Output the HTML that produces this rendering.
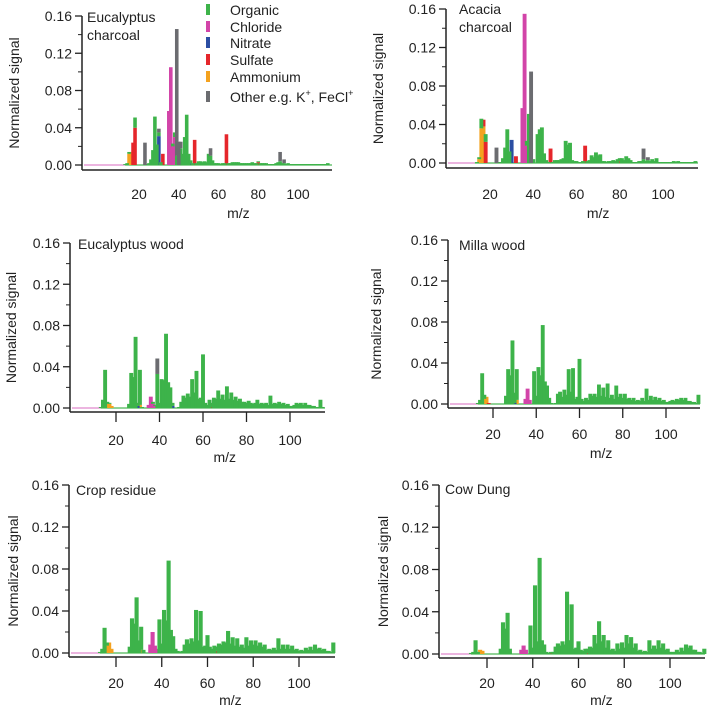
<!DOCTYPE html>
<html><head><meta charset="utf-8"><style>
html,body{margin:0;padding:0;background:#fff;}
svg{display:block;font-family:"Liberation Sans",Arial,sans-serif;}
</style></head><body>
<svg id="chart" width="709" height="710" viewBox="0 0 709 710" xmlns="http://www.w3.org/2000/svg"></svg>
<script>
// ---- data (organic: contiguous m/z 12..115) ----
const organicStart = 12;
const p1Organic = [0,.001,.002,.002,0,0,.011,0,0,0,0,0,.001,.002,.006,.016,.052,.022,.004,.003,0,0,0,0,0,.003,.005,.010,0,.018,.012,.030,.054,.012,.003,.002,0,.002,.004,.004,.003,.004,.003,.012,.010,.005,.002,.002,.002,.001,.002,.002,0,.002,.002,.003,.003,.003,.003,.002,.002,.002,.002,.002,.002,.003,.002,.002,.001,.002,.002,.002,.002,.001,.001,.001,.001,.002,.003,.004,.002,.002,.001,.002,.001,.001,.001,.001,.001,.001,.001,.001,.001,.001,.001,.001,.001,.001,.001,.001,.001,.001,.001,.002];
const p2Organic = [0,0,.001,.002,.010,0,.008,0,0,0,0,0,.001,.001,.005,.016,.035,.012,0,0,0,0,0,0,0,.005,.051,0,.004,0,.030,.035,.037,.010,.003,.001,0,.001,.003,.003,.003,.004,.005,.023,.019,.021,.003,.002,.002,.001,.001,.002,0,.002,.003,.008,.006,.011,.008,.009,.002,.002,.001,.002,.002,.003,.002,.004,.003,.005,.003,.007,.005,.003,.001,.001,.001,.002,.002,.004,.002,.003,.002,.004,.002,.005,.001,.001,.001,.001,.001,.001,.001,.002,.001,.002,.001,.001,.001,.001,.001,.001,.001,.002];
const p3Organic = [0,.001,.008,.037,.002,.001,0,0,0,0,0,0,0,0,.004,.034,.030,.069,.003,.034,.001,0,0,0,0,.002,.001,.033,.005,.028,.027,.072,.025,.020,.003,0,0,.001,.006,.012,.010,.014,.011,.028,.015,.036,.009,.010,.052,.005,.003,.008,.004,.010,.009,.017,.009,.013,.008,.021,.009,.015,.008,.011,.007,.009,.006,.006,.005,.007,.005,.004,.005,.008,.004,.005,.004,.005,.003,.012,.004,.005,.004,.006,.004,.005,.003,.004,.002,.002,.003,.005,.004,.005,.003,.005,.003,.003,.002,.002,.001,.001,.008,.001];
const p4Organic = [0,.001,.004,.030,.004,0,0,0,0,0,0,0,0,0,.008,.034,.028,.062,.010,.030,0,0,0,0,0,0,0,.032,.008,.036,.028,.077,.022,.018,.006,.001,0,.001,.010,.012,.007,.014,.009,.034,.012,.035,.005,.007,.044,.005,.003,.006,.004,.010,.008,.010,.007,.019,.008,.016,.007,.020,.006,.009,.005,.018,.007,.010,.006,.010,.005,.006,.004,.006,.003,.004,.003,.006,.003,.015,.004,.008,.004,.007,.004,.006,.003,.004,.002,.002,.003,.004,.003,.005,.004,.006,.004,.006,.003,.003,.002,.002,.001,.009];
const p5Organic = [0,.001,.004,.024,.003,0,0,0,0,0,0,0,0,0,.006,.033,.028,.053,.012,.022,.003,0,0,0,0,0,0,.032,.009,.041,.031,.088,.022,.016,.004,.002,.001,.002,.008,.013,.009,.014,.011,.041,.012,.040,.006,.007,.017,.006,.004,.007,.004,.009,.008,.011,.010,.021,.009,.015,.007,.014,.006,.008,.005,.015,.007,.012,.008,.012,.007,.010,.006,.008,.003,.004,.003,.005,.003,.014,.004,.008,.004,.008,.004,.007,.003,.004,.002,.003,.002,.005,.003,.006,.003,.008,.004,.005,.003,.004,.002,.002,.001,.010];
const p6Organic = [0,.001,.002,.013,.002,0,0,0,0,0,0,0,0,0,.005,.030,.024,.039,.005,0,0,0,0,0,0,0,0,.027,.006,.065,.012,.091,.013,.009,.002,.001,.001,.002,.007,.010,.008,.012,.009,.059,.013,.047,.005,.006,.012,.004,.003,.005,.004,.007,.006,.018,.010,.031,.012,.018,.006,.013,.004,.005,.003,.010,.005,.011,.006,.018,.010,.016,.006,.010,.003,.004,.002,.003,.002,.013,.005,.008,.005,.013,.006,.010,.004,.005,.002,.002,.002,.004,.002,.006,.003,.009,.006,.008,.004,.004,.002,.002,.001,.005];
// sparse species: [m/z, value]
const p1Ammonium = [[15,.012],[16,.014]];
const p1Sulfate = [[17,.024],[18,.040],[32,.012],[48,.027],[64,.033],[80,.003]];
const p1Nitrate = [[30,.031],[46,.002]];
const p1Chloride = [[35,.058],[36,.105],[37,.020],[38,.030]];
const p1Other = [[23,.024],[30,.004],[39,.136],[40,.025],[41,.007],[56,.008],[91,.010],[93,.004]];
const p2Ammonium = [[15,.004],[16,.036],[17,.038]];
const p2Sulfate = [[17,.007],[18,.022],[32,.007],[48,.015],[64,.018],[80,.002]];
const p2Nitrate = [[30,.024]];
const p2Chloride = [[35,.057],[36,.155],[37,.018]];
const p2Other = [[23,.016],[39,.095],[91,.011],[93,.003]];
const p3Ammonium = [[16,.004],[17,.004],[18,.002],[31,.003]];
const p3Sulfate = [[64,.001]];
const p3Nitrate = [[30,.002],[46,.002]];
const p3Chloride = [[35,.003],[36,.011],[37,.004],[38,.002]];
const p3Other = [[39,.015]];
const p4Ammonium = [[16,.005],[17,.007],[31,.004]];
const p4Sulfate = [[18,.001]];
const p4Nitrate = [[30,.001]];
const p4Chloride = [[35,.005],[36,.015],[37,.004]];
const p4Other = [];
const p5Ammonium = [[16,.007],[17,.010],[18,.004],[31,.003]];
const p5Sulfate = [[64,.002]];
const p5Nitrate = [];
const p5Chloride = [[35,.008],[36,.020],[37,.007],[38,.004]];
const p5Other = [];
const p6Ammonium = [[17,.004],[18,.003]];
const p6Sulfate = [[48,.001],[64,.001]];
const p6Nitrate = [];
const p6Chloride = [[35,.004],[36,.008],[37,.004]];
const p6Other = [];
const xTicks = [20,40,60,80,100];
const yTicks = [0,0.04,0.08,0.12,0.16];
const yTickLabels = ["0.00","0.04","0.08","0.12","0.16"];
const legendLabels = ["Organic","Chloride","Nitrate","Sulfate","Ammonium"];

const COLORS = {org:"#3db34a",chl:"#d244a8",nit:"#2b4ea3",sul:"#e5262b",amm:"#f4a21f",oth:"#6b6c70"};
const NS = "http://www.w3.org/2000/svg";
const svg = document.getElementById("chart");
function mk(tag, attrs, parent){ const e=document.createElementNS(NS,tag); for(const k in attrs) e.setAttribute(k,attrs[k]); (parent||svg).appendChild(e); return e; }

const panels = [
 {id:"eucalyptus-charcoal", title:["Eucalyptus","charcoal"], tx:87, ty:22, ax:82, y16:16, y0:165, xa:170, x20:139, x100:298, xend:332, tl:199, mz:218, yl:14, xticks:false, org:p1Organic, amm:p1Ammonium, sul:p1Sulfate, nit:p1Nitrate, chl:p1Chloride, oth:p1Other},
 {id:"acacia-charcoal", title:["Acacia","charcoal"], tx:459, ty:14, ax:446, y16:9, y0:163, xa:168, x20:490, x100:663, xend:698, tl:199, mz:218, yl:378, xticks:false, org:p2Organic, amm:p2Ammonium, sul:p2Sulfate, nit:p2Nitrate, chl:p2Chloride, oth:p2Other},
 {id:"eucalyptus-wood", title:["Eucalyptus wood"], tx:78, ty:249, ax:70, y16:243, y0:408, xa:412, x20:116, x100:290, xend:325, tl:445, mz:462, yl:11, xticks:true, org:p3Organic, amm:p3Ammonium, sul:p3Sulfate, nit:p3Nitrate, chl:p3Chloride, oth:p3Other},
 {id:"milla-wood", title:["Milla wood"], tx:459, ty:250, ax:448, y16:240, y0:404, xa:408, x20:493, x100:666, xend:700, tl:439, mz:458, yl:376, xticks:true, org:p4Organic, amm:p4Ammonium, sul:p4Sulfate, nit:p4Nitrate, chl:p4Chloride, oth:p4Other},
 {id:"crop-residue", title:["Crop residue"], tx:76, ty:495, ax:69, y16:485, y0:653, xa:657, x20:116, x100:299, xend:335, tl:688, mz:705, yl:13, xticks:true, org:p5Organic, amm:p5Ammonium, sul:p5Sulfate, nit:p5Nitrate, chl:p5Chloride, oth:p5Other},
 {id:"cow-dung", title:["Cow Dung"], tx:445, ty:494, ax:439, y16:485, y0:654, xa:658, x20:487, x100:670, xend:705, tl:688, mz:705, yl:383, xticks:true, org:p6Organic, amm:p6Ammonium, sul:p6Sulfate, nit:p6Nitrate, chl:p6Chloride, oth:p6Other}
];

panels.forEach(p=>{
  const g = mk("g",{});
  
  
  const sx = m => p.x20 + (m-20)*(p.x100-p.x20)/80;
  const sy = v => p.y0 - v*(p.y0-p.y16)/0.16;
  const bw = (p.x100-p.x20)/80*1.8;
  // baseline
  const base = mk("line",{x1:p.ax+2,x2:p.xend,y1:p.y0,y2:p.y0,stroke:"#d96bc0","stroke-width":1},g);
  
  
  const base2 = mk("line",{x1:sx(13),x2:p.xend,y1:p.y0,y2:p.y0,stroke:"#6cc374","stroke-width":1.5},g);
  
  
  // stacked bars
  const stack = {};
  const addBar = (m,v,col,name)=>{
    if(!(v>0)) return;
    const b0 = stack[m]||0;
    const r = mk("rect",{x:(sx(m)-bw/2).toFixed(2),y:sy(b0+v).toFixed(2),width:bw.toFixed(2),height:(sy(b0)-sy(b0+v)).toFixed(2),fill:col},g);
    
    
    stack[m]=b0+v;
  };
  p.amm.forEach(d=>addBar(d[0],d[1],COLORS.amm,'ammonium'));
  p.sul.forEach(d=>addBar(d[0],d[1],COLORS.sul,'sulfate'));
  p.nit.forEach(d=>addBar(d[0],d[1],COLORS.nit,'nitrate'));
  p.chl.forEach(d=>addBar(d[0],d[1],COLORS.chl,'chloride'));
  p.org.forEach((v,i)=>addBar(organicStart+i,v,COLORS.org,'organic'));
  p.oth.forEach(d=>addBar(d[0],d[1],COLORS.oth,'other'));
  // y axis
  const yax = mk("line",{x1:p.ax,x2:p.ax,y1:p.y16,y2:p.xa,stroke:"#222","stroke-width":1.5},g);
  
  
  yTicks.forEach((t,i)=>{
    const tk = mk("line",{x1:p.ax-7,x2:p.ax,y1:sy(t),y2:sy(t),stroke:"#222","stroke-width":1.3},g);
    
    
    if(i<yTicks.length-1){
      const mt = mk("line",{x1:p.ax-4,x2:p.ax,y1:sy(t+0.02),y2:sy(t+0.02),stroke:"#222","stroke-width":1},g);
      
      
    }
    const tl = mk("text",{x:p.ax-10,y:sy(t)+5,"text-anchor":"end","font-size":14,fill:"#222"},g);
    tl.textContent = yTickLabels[i];
    
    
  });
  // x axis
  const xax = mk("line",{x1:p.ax,x2:p.xend,y1:p.xa,y2:p.xa,stroke:"#222","stroke-width":1.5},g);
  
  
  xTicks.forEach(t=>{
    if(p.xticks){
      const tk = mk("line",{x1:sx(t),x2:sx(t),y1:p.xa,y2:p.xa+10,stroke:"#222","stroke-width":1.3},g);
      
      
    }
    const tl = mk("text",{x:sx(t),y:p.tl,"text-anchor":"middle","font-size":14,fill:"#222"},g);
    tl.textContent = t;
    
    
  });
  const xt = mk("text",{x:(p.x20+p.x100)/2+ (p.x100-p.x20)/80*10,y:p.mz,"text-anchor":"middle","font-size":14,fill:"#222"},g);
  xt.textContent = "m/z";
  
  
  const cy = (p.y16+p.xa)/2;
  const yt = mk("text",{x:p.yl,y:cy,"text-anchor":"middle","font-size":14,fill:"#222",transform:`rotate(-90 ${p.yl} ${cy})`,"dominant-baseline":"central"},g);
  yt.textContent = "Normalized signal";
  
  
  p.title.forEach((line,i)=>{
    const t = mk("text",{x:p.tx,y:p.ty+i*18,"font-size":14,fill:"#222"},g);
    t.textContent = line;
    
    
  });
});

// legend in first panel
const legendColors = [COLORS.org,COLORS.chl,COLORS.nit,COLORS.sul,COLORS.amm,COLORS.oth];
const legendY = [10,27,43,60,77,97];
const lg = mk("g",{});


legendColors.forEach((c,i)=>{
  const r = mk("rect",{x:206,y:legendY[i]-6,width:4,height:11,fill:c},lg);
  
  
  const t = mk("text",{x:230,y:legendY[i]+5,"font-size":14,fill:"#222"},lg);
  if(i<5){ t.textContent = legendLabels[i]; }
  else { t.innerHTML = 'Other e.g. K<tspan dy="-6" font-size="9">+</tspan><tspan dy="6">, FeCl</tspan><tspan dy="-6" font-size="9">+</tspan>'; }
  
  
});
</script>
</body></html>
